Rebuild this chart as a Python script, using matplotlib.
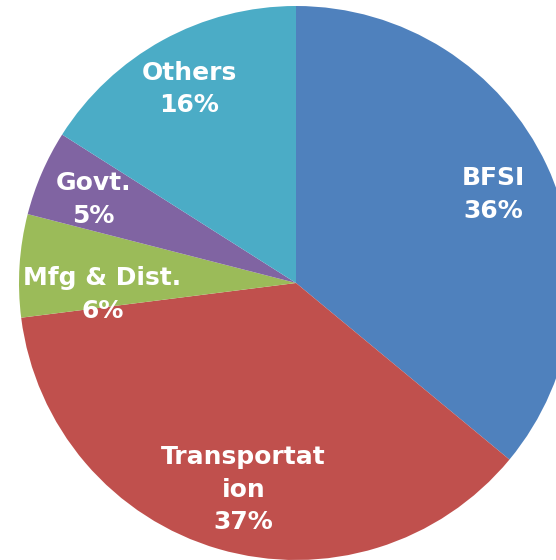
import numpy as np
import matplotlib.pyplot as plt

categories = ["BFSI", "Transportat\nion", "Mfg & Dist.", "Govt.", "Others"]
shares = [36, 37, 6, 5, 16]
colors = ["#4F81BD", "#C0504D", "#9BBB59", "#8064A2", "#4BACC6"]

labels = ["{}\n{}%".format(c, v) for c, v in zip(categories, shares)]

# label placement: distance from centre and angular nudge (deg) per slice
label_dist = [0.78, 0.77, 0.70, 0.79, 0.80]
label_shift = [-1.0, 2.0, 7.0, 1.0, 0.0]

fig = plt.figure(figsize=(5.56, 5.60), dpi=100)
ax = fig.add_axes([0, 0, 1, 1])

wedges, texts = ax.pie(shares, colors=colors, startangle=90, counterclock=False,
                       labels=labels, labeldistance=0.78,
                       wedgeprops=dict(linewidth=0),
                       textprops=dict(color="white", fontsize=18, fontweight="bold"))
for w, t, d, s in zip(wedges, texts, label_dist, label_shift):
    ang = np.deg2rad((w.theta1 + w.theta2) / 2 + s)
    t.set_position((d * np.cos(ang), d * np.sin(ang)))
    t.set_ha("center")
    t.set_va("center")
    t.set_multialignment("center")
    t.set_linespacing(1.45)

# pie centre sits at (296, 283) px with radius ~277 px, cropped on right and bottom
r = 277.0
ax.set_xlim(-296 / r, (556 - 296) / r)
ax.set_ylim((283 - 560) / r, 283 / r)
ax.set_aspect("auto")
ax.axis("off")

fig.savefig("out.png", dpi=100)
